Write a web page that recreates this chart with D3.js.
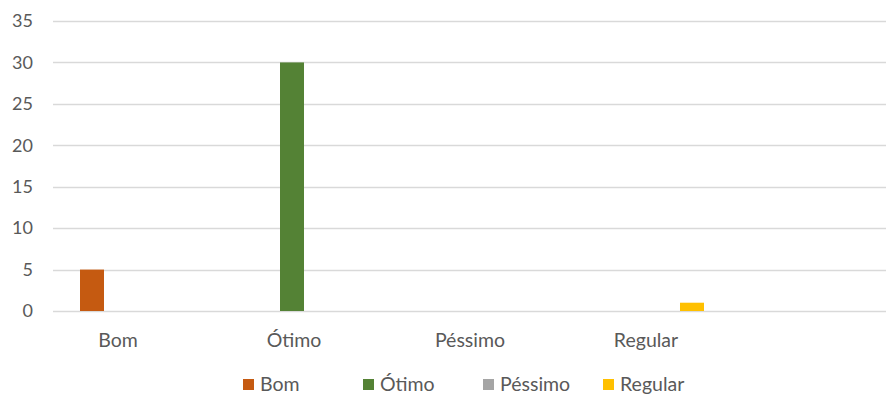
<!DOCTYPE html>
<html>
<head>
<meta charset="utf-8">
<script src="https://cdn.jsdelivr.net/npm/d3@7"></script>
<style>
  html, body { margin: 0; padding: 0; background: #ffffff; }
  svg { display: block; font-family: Lato, "Open Sans", sans-serif; }
</style>
</head>
<body>
<svg id="chart" width="886" height="394"></svg>
<script>
// Categories on the x axis and one series per answer
const categories = ["Bom", "Ótimo", "Péssimo", "Regular"];
const seriesNames = ["Bom", "Ótimo", "Péssimo", "Regular"];
const seriesColors = ["#C55A11", "#548235", "#A5A5A5", "#FFC000"];
// one array per series, one value per category
const bomValues = [5, 0, 0, 0];
const otimoValues = [0, 30, 0, 0];
const pessimoValues = [0, 0, 0, 0];
const regularValues = [0, 0, 0, 1];
const yTicks = [0, 5, 10, 15, 20, 25, 30, 35];

const seriesValues = [bomValues, otimoValues, pessimoValues, regularValues];

const svg = d3.select("#chart");
const textColor = "#595959";
const labelFont = "19.5px";

// plot area
const plotLeft = 53, plotRight = 886, plotTop = 21, plotBottom = 311;

const y = d3.scaleLinear().domain([0, 35]).range([plotBottom, plotTop]);
const x = d3.scaleBand().domain(categories).range([30, 734]).paddingInner(0).paddingOuter(0);
// bars within a category: 4 adjacent columns
const x1 = d3.scaleBand().domain(seriesNames).range([50, 146]).padding(0);

// gridlines
svg.append("g")
  .selectAll("line")
  .data(yTicks)
  .join("line")
  .attr("x1", plotLeft)
  .attr("x2", plotRight)
  .attr("y1", d => Math.round(y(d)) + 0.5)
  .attr("y2", d => Math.round(y(d)) + 0.5)
  .attr("stroke", "#D9D9D9")
  .attr("stroke-width", 1.3);

// y axis labels
const yAxis = d3.axisLeft(y).tickValues(yTicks).tickSize(0).tickPadding(0);
const gy = svg.append("g").attr("transform", `translate(33,0)`).call(yAxis);
gy.select(".domain").remove();
gy.selectAll("text")
  .attr("fill", textColor)
  .style("font-size", "18px")
  .style("font-family", "Lato, 'Open Sans', sans-serif");

// bars
const cells = [];
seriesValues.forEach((vals, s) => {
  vals.forEach((v, c) => {
    cells.push({ series: seriesNames[s], category: categories[c], value: v, color: seriesColors[s] });
  });
});

svg.append("g")
  .selectAll("rect")
  .data(cells.filter(d => d.value > 0))
  .join("rect")
  .attr("x", d => x(d.category) + x1(d.series))
  .attr("width", x1.bandwidth())
  .attr("y", d => y(d.value))
  .attr("height", d => y(0) - y(d.value))
  .attr("fill", d => d.color);

// x axis category labels
const xAxis = d3.axisBottom(x).tickSize(0).tickPadding(0);
const gx = svg.append("g").attr("transform", `translate(0,${plotBottom + 22})`).call(xAxis);
gx.select(".domain").remove();
gx.selectAll("text")
  .attr("fill", textColor)
  .style("font-size", labelFont)
  .style("font-family", "Lato, 'Open Sans', sans-serif");

// legend
const legendX = d3.scalePoint().domain(seriesNames).range([243, 603]);
const legendY = 385;
const legend = svg.append("g")
  .selectAll("g")
  .data(seriesNames)
  .join("g")
  .attr("transform", d => `translate(${legendX(d)},${legendY})`);

legend.append("rect")
  .attr("x", 0)
  .attr("y", -6)
  .attr("width", 11)
  .attr("height", 11)
  .attr("fill", (d, i) => seriesColors[i]);

legend.append("text")
  .attr("x", 17)
  .attr("y", -1)
  .attr("dy", "0.35em")
  .attr("fill", textColor)
  .style("font-size", labelFont)
  .text(d => d);
</script>
</body>
</html>
